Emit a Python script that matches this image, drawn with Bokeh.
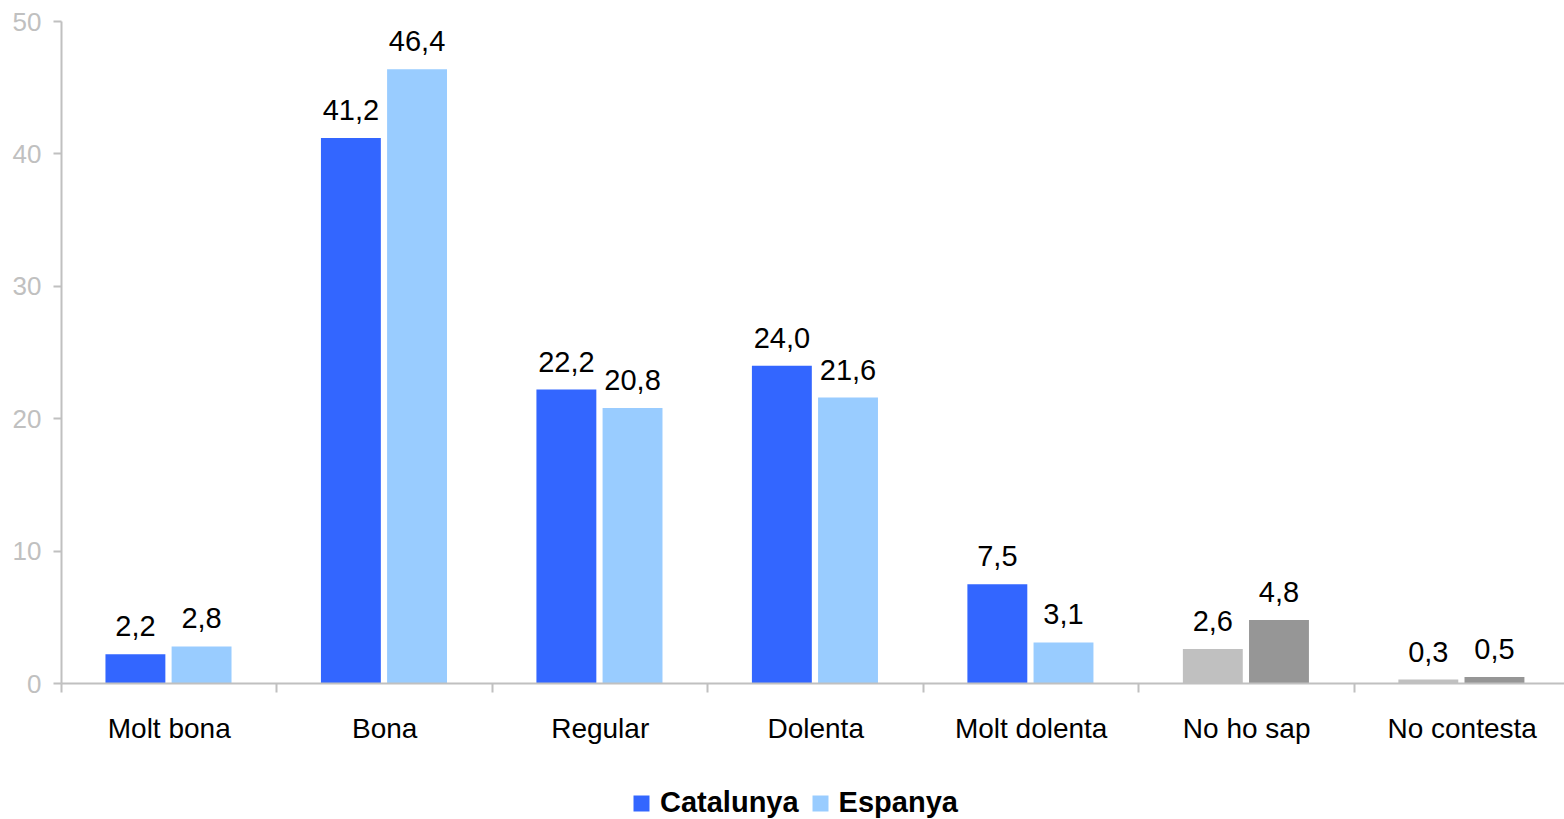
from bokeh.plotting import figure
from bokeh.layouts import column
from bokeh.models import ColumnDataSource, FixedTicker, Legend, LegendItem, Range1d
from bokeh.embed import file_html
from bokeh.resources import INLINE
from bokeh.core.properties import value
import numpy as np

# ---- data ----
categories = ["Molt bona", "Bona", "Regular", "Dolenta", "Molt dolenta", "No ho sap", "No contesta"]
catalunya = [2.2, 41.2, 22.2, 24.0, 7.5, 2.6, 0.3]
espanya = [2.8, 46.4, 20.8, 21.6, 3.1, 4.8, 0.5]
y_ticks = [0, 10, 20, 30, 40, 50]
series_names = ["Catalunya", "Espanya"]

# ---- style ----
FONT = "Liberation Sans"
AXIS_GREY = "#C0C0C0"
BLUE, LIGHT_BLUE = "#3366FF", "#99CCFF"
n = len(categories)
cat_colors = [BLUE] * 5 + ["#C0C0C0"] * (n - 5)
esp_colors = [LIGHT_BLUE] * 5 + ["#969696"] * (n - 5)

def fmt(v):
    return f"{v:.1f}".replace(".", ",")

idx = np.arange(n)
src_cat = ColumnDataSource(dict(x=idx + 0.343, top=catalunya, color=cat_colors,
                                label=[fmt(v) for v in catalunya]))
src_esp = ColumnDataSource(dict(x=idx + 0.650, top=espanya, color=esp_colors,
                                label=[fmt(v) for v in espanya]))

p = figure(width=1564, height=776, x_range=Range1d(0, 6.975), y_range=Range1d(0, 50),
           output_backend="svg", toolbar_location=None,
           min_border_left=61, min_border_right=0, min_border_top=21, min_border_bottom=93)
p.frame_align = False
p.outline_line_color = None
p.xgrid.visible = False
p.ygrid.visible = False
p.background_fill_color = "white"

p.vbar(x="x", top="top", bottom=0, width=0.278, fill_color="color", line_color=None, source=src_cat)
p.vbar(x="x", top="top", bottom=0, width=0.278, fill_color="color", line_color=None, source=src_esp)

for src in (src_cat, src_esp):
    p.text(x="x", y="top", text="label", source=src, text_align="center",
           text_baseline="alphabetic", y_offset=-28, text_font=value(FONT),
           text_font_size="29px", text_color="black")

# x axis
xa = p.xaxis[0]
xa.ticker = FixedTicker(ticks=[i + 0.5 for i in range(n)], minor_ticks=list(range(n + 1)))
xa.major_label_overrides = {i + 0.5: c for i, c in enumerate(categories)}
xa.major_tick_out = 0
xa.major_tick_in = 0
xa.minor_tick_out = 9
xa.minor_tick_in = 0
xa.minor_tick_line_color = AXIS_GREY
xa.minor_tick_line_width = 2
xa.axis_line_color = AXIS_GREY
xa.axis_line_width = 2
xa.major_label_standoff = 20
xa.major_label_text_font = FONT
xa.major_label_text_font_size = "28px"
xa.major_label_text_color = "black"

# y axis
ya = p.yaxis[0]
ya.ticker = FixedTicker(ticks=y_ticks)
ya.major_tick_out = 8
ya.major_tick_in = 0
ya.minor_tick_out = 0
ya.minor_tick_in = 0
ya.major_tick_line_color = AXIS_GREY
ya.major_tick_line_width = 2
ya.axis_line_color = AXIS_GREY
ya.axis_line_width = 2
ya.major_label_standoff = 12
ya.major_label_text_font = FONT
ya.major_label_text_font_size = "26px"
ya.major_label_text_color = AXIS_GREY

# legend strip below the chart (key renderers have zero height, only their swatches show)
lg = figure(width=1564, height=43, x_range=Range1d(0, 1), y_range=Range1d(0, 1),
            output_backend="svg", toolbar_location=None, x_axis_type=None, y_axis_type=None,
            min_border=0)
lg.frame_align = False
lg.outline_line_color = None
lg.background_fill_color = None
lg.border_fill_color = None
lg.xgrid.visible = False
lg.ygrid.visible = False
k1 = lg.vbar(x=[0.5], top=[0], bottom=0, width=0.01, fill_color=BLUE, line_color=None)
k2 = lg.vbar(x=[0.5], top=[0], bottom=0, width=0.01, fill_color=LIGHT_BLUE, line_color=None)
legend = Legend(items=[LegendItem(label=series_names[0], renderers=[k1]),
                       LegendItem(label=series_names[1], renderers=[k2])],
                orientation="horizontal", location=(631, 0),
                border_line_color=None, background_fill_alpha=0,
                label_text_font=FONT, label_text_font_style="bold",
                label_text_font_size="29px", label_text_color="black",
                glyph_width=20, glyph_height=20, label_standoff=9, spacing=11,
                padding=0, margin=0)
lg.add_layout(legend, "center")

layout = column(p, lg, spacing=0)
open("out.html", "w").write(file_html(layout, INLINE))
